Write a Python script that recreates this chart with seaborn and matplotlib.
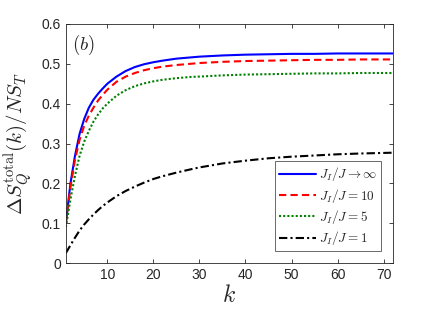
import numpy as np
import pandas as pd
import matplotlib
matplotlib.use('Agg')
import matplotlib.pyplot as plt
import seaborn as sns

# ---- data ----
k_vals = [1, 2, 3, 4, 5, 6, 7, 8, 9, 10, 12, 14, 16, 18, 20, 22, 25, 28, 30, 35, 40, 45,
          50, 55, 60, 65, 72]

s_inf = [0.10, 0.20, 0.27, 0.325, 0.362, 0.39, 0.41, 0.425, 0.438, 0.45, 0.468, 0.482,
         0.492, 0.499, 0.504, 0.508, 0.513, 0.516, 0.518, 0.521, 0.523, 0.524, 0.525,
         0.525, 0.526, 0.526, 0.526]
s_10 = [0.10, 0.19, 0.26, 0.31, 0.345, 0.37, 0.39, 0.408, 0.422, 0.435, 0.455, 0.468,
        0.477, 0.484, 0.489, 0.493, 0.497, 0.5, 0.502, 0.505, 0.507, 0.508, 0.509,
        0.51, 0.51, 0.511, 0.511]
s_5 = [0.09, 0.16, 0.22, 0.27, 0.305, 0.332, 0.355, 0.373, 0.388, 0.40, 0.42, 0.434,
       0.444, 0.451, 0.456, 0.46, 0.464, 0.467, 0.468, 0.471, 0.473, 0.474, 0.475,
       0.476, 0.476, 0.477, 0.477]
s_1 = [0.025, 0.045, 0.064, 0.082, 0.097, 0.11, 0.122, 0.133, 0.143, 0.152, 0.168,
       0.181, 0.192, 0.202, 0.211, 0.218, 0.227, 0.235, 0.24, 0.25, 0.257, 0.263,
       0.267, 0.27, 0.273, 0.275, 0.277]

labels = [r'$J_I/J \rightarrow \infty$', r'$J_I/J = 10$', r'$J_I/J = 5$', r'$J_I/J = 1$']
colors = ['#0000ff', '#ff0000', '#008000', '#000000']
styles = ['-', (0, (3.5, 2)), (0, (1, 1)), (0, (4, 1.5, 1, 1.5))]

x_ticks = [10, 20, 30, 40, 50, 60, 70]
y_ticks = [0, 0.1, 0.2, 0.3, 0.4, 0.5, 0.6]
y_ticklabels = ['0', '0.1', '0.2', '0.3', '0.4', '0.5', '0.6']

# ---- plot ----
sns.set_style('ticks')
plt.rcParams['font.family'] = ['Liberation Sans', 'DejaVu Sans']
plt.rcParams['mathtext.fontset'] = 'cm'

fig = plt.figure(figsize=(4.36, 3.24), dpi=100)
ax = fig.add_axes([0.151, 0.188, 0.750, 0.738])

for series, lab, col, ls in zip([s_inf, s_10, s_5, s_1], labels, colors, styles):
    df = pd.DataFrame({'k': k_vals, 'S': series})
    sns.lineplot(data=df, x='k', y='S', ax=ax, color=col, linestyle=ls,
                 linewidth=1.5, label=lab)

ax.set_xlim(1, 72)
ax.set_ylim(0, 0.6)
ax.set_xticks(x_ticks)
ax.set_yticks(y_ticks)
ax.set_yticklabels(y_ticklabels)
ax.tick_params(direction='in', top=True, right=True, length=3, width=0.6,
               labelsize=10, colors='#262626')
for sp in ax.spines.values():
    sp.set_color('#262626')
    sp.set_linewidth(0.6)

ax.set_xlabel(r'$k$', fontsize=17, labelpad=2)
ax.set_ylabel(r'$\Delta S_Q^{\rm total}(k)/NS_T$', fontsize=15, labelpad=5)
ax.text(0.02, 0.89, r'$(b)$', transform=ax.transAxes, fontsize=13.5)

leg = ax.legend(loc='lower right', fontsize=9.5, frameon=True, fancybox=False,
                edgecolor='#262626', handlelength=2.8, handletextpad=0.2,
                labelspacing=0.25, borderpad=0.3, borderaxespad=0.9)
leg.get_frame().set_linewidth(0.6)

fig.savefig('out.png', dpi=100)
